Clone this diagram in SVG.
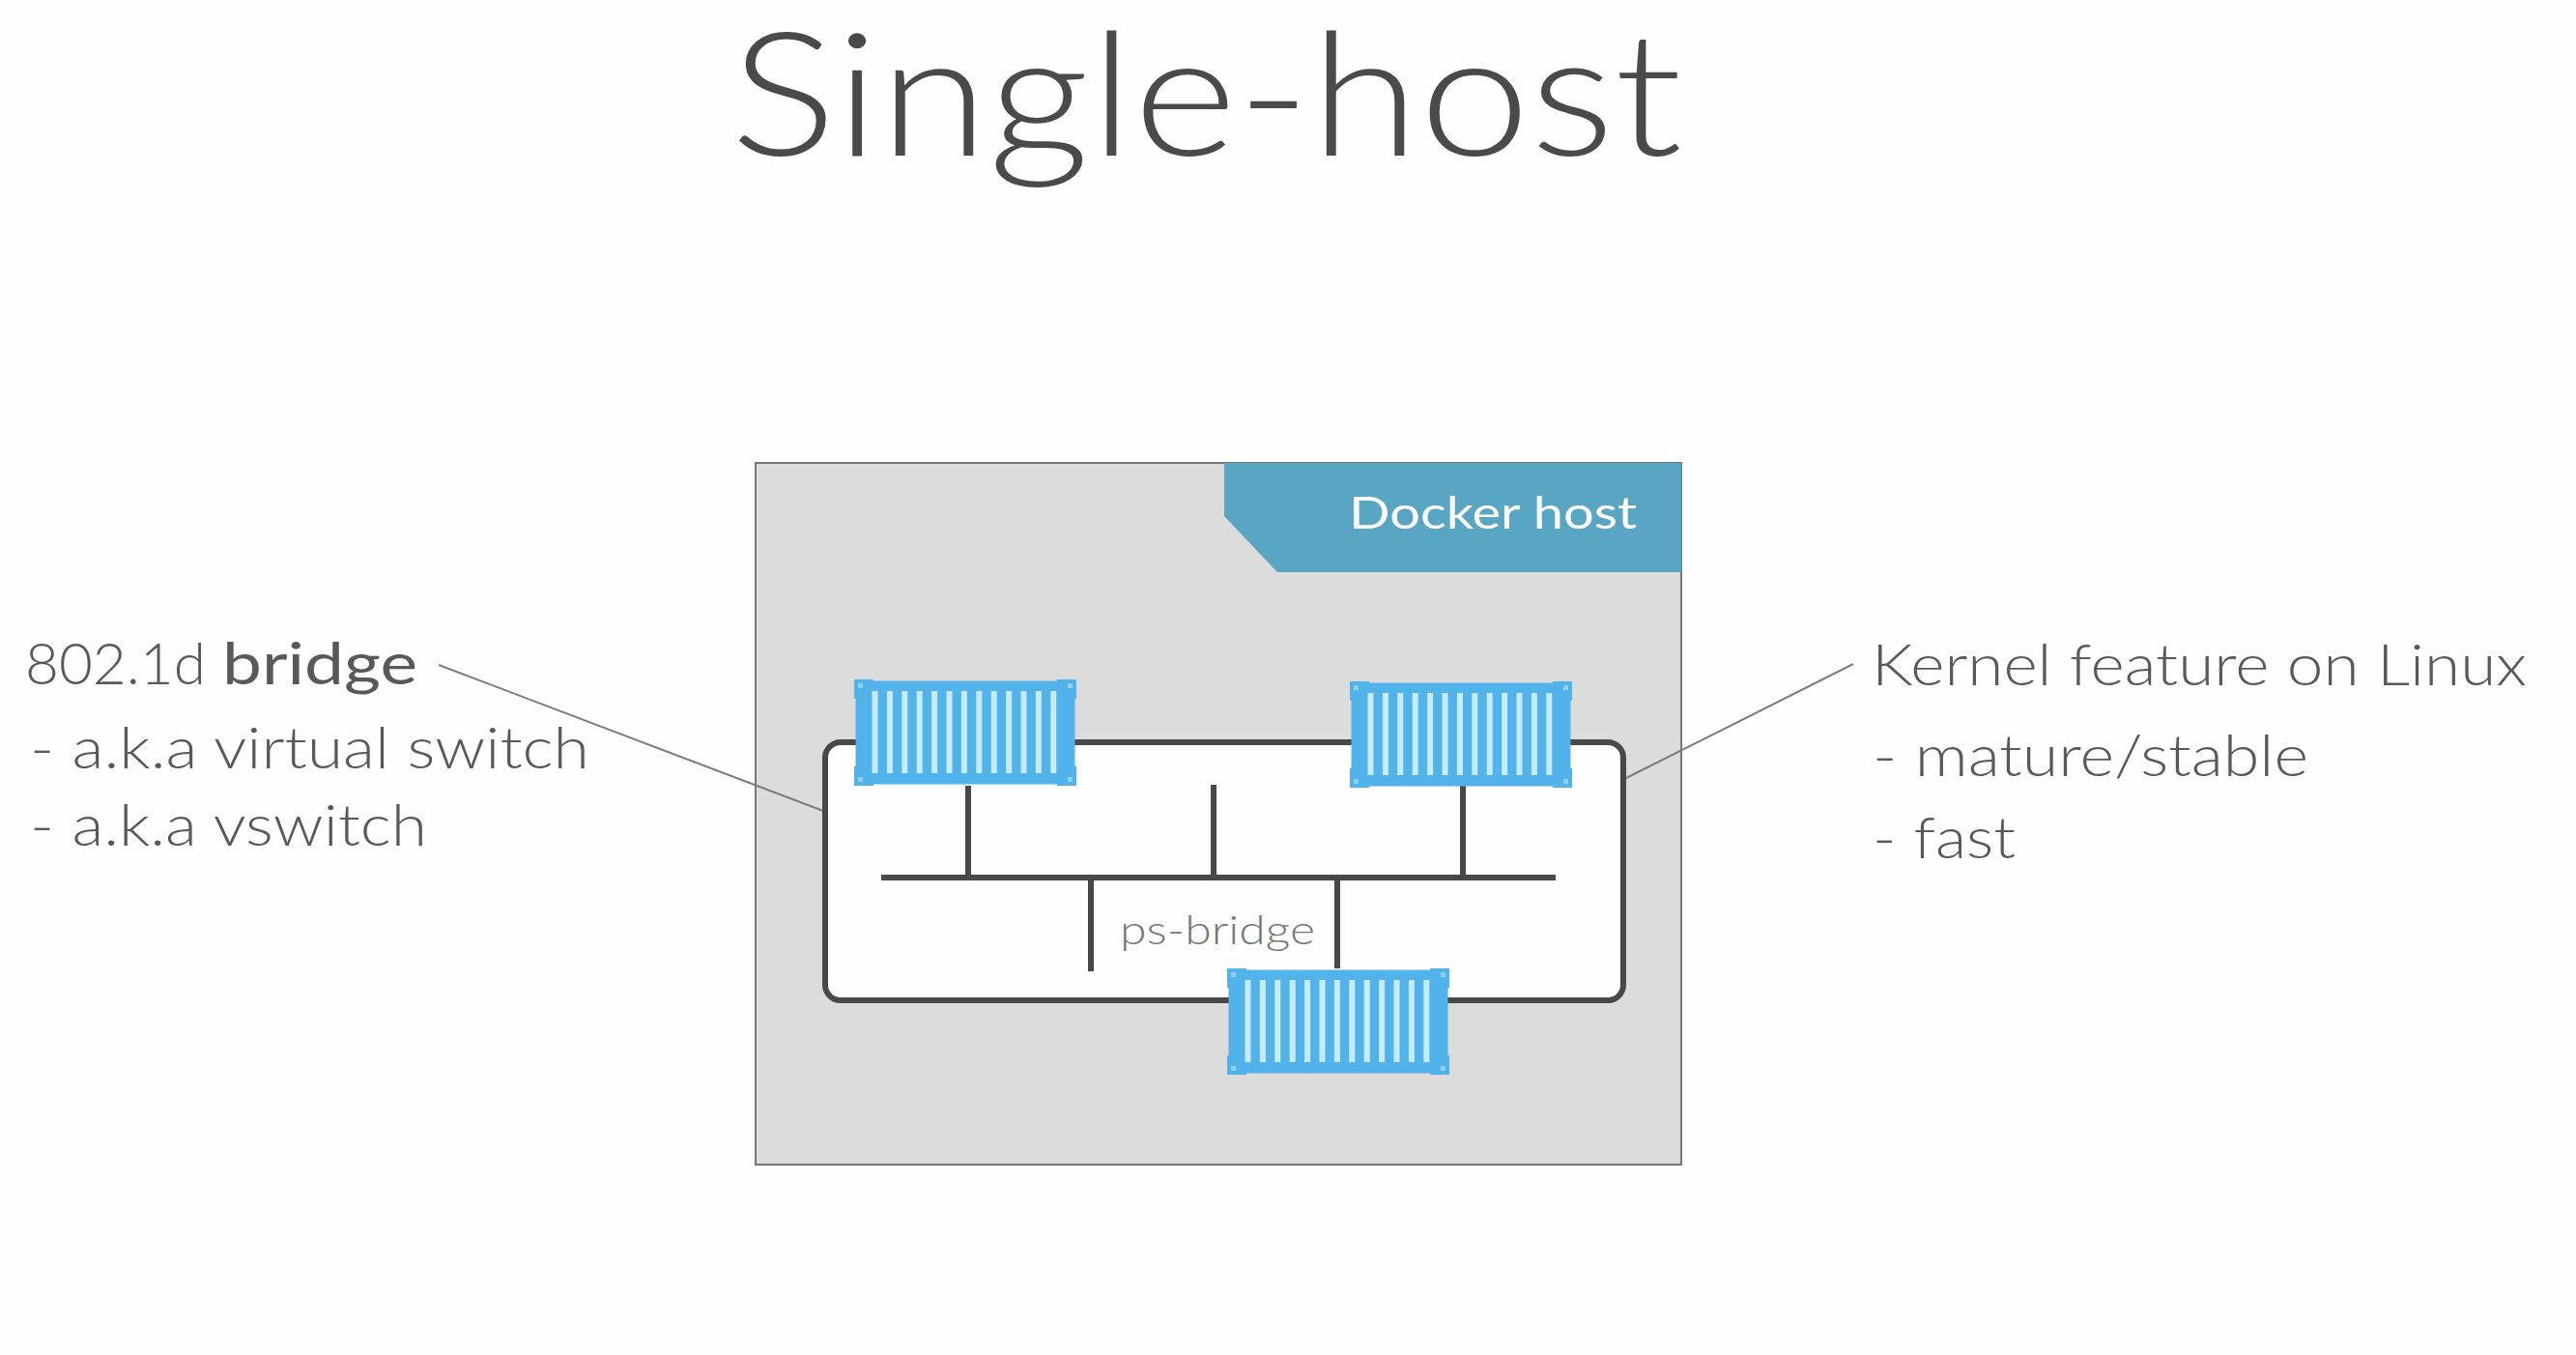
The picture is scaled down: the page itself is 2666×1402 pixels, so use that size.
<svg xmlns="http://www.w3.org/2000/svg" width="2666" height="1402" viewBox="0 0 2666 1402">
<style>
text{font-family:"Lato","Open Sans","Liberation Sans",sans-serif;font-weight:300;fill:#595959}
.t{font-size:60px}
.wire{stroke:#484848;stroke-width:6;fill:none}
.lead{stroke:#7d7d7d;stroke-width:2;fill:none}
.slat{fill:#c5ecfc}
.cbody{fill:#52b3ea}
.cdot{fill:#8fd0f2}
</style>
<defs>
<g id="container">
<rect class="cbody" x="1.5" y="1.5" width="227" height="107"/>
<g class="cbody">
<rect x="0" y="0" width="20" height="8"/><rect x="210" y="0" width="20" height="8"/><rect x="0" y="102" width="20" height="8"/><rect x="210" y="102" width="20" height="8"/>
<rect x="0" y="0" width="8" height="20"/><rect x="222" y="0" width="8" height="20"/><rect x="0" y="90" width="8" height="20"/><rect x="222" y="90" width="8" height="20"/>
</g>
<g class="slat">
<rect x="18.5" y="12" width="6" height="85"/><rect x="33.9" y="12" width="6" height="85"/><rect x="49.3" y="12" width="6" height="85"/><rect x="64.7" y="12" width="6" height="85"/><rect x="80.1" y="12" width="6" height="85"/><rect x="95.5" y="12" width="6" height="85"/><rect x="110.9" y="12" width="6" height="85"/><rect x="126.3" y="12" width="6" height="85"/><rect x="141.7" y="12" width="6" height="85"/><rect x="157.1" y="12" width="6" height="85"/><rect x="172.5" y="12" width="6" height="85"/><rect x="187.9" y="12" width="6" height="85"/><rect x="203.3" y="12" width="6" height="85"/>
</g>
<rect class="cdot" x="4" y="4" width="5" height="5"/><rect class="cdot" x="221" y="4" width="5" height="5"/><rect class="cdot" x="4" y="101" width="5" height="5"/><rect class="cdot" x="221" y="101" width="5" height="5"/>
</g>
</defs>
<rect width="2666" height="1402" fill="#fefefe"/>
<g id="title"><text x="756" y="161" font-size="178" style="fill:#4a4a4a" textLength="985" lengthAdjust="spacingAndGlyphs">Single-host</text></g>
<g id="docker-host">
<rect x="782" y="479" width="958" height="726" fill="#dcdcdc" stroke="#777" stroke-width="2"/>
<path d="M1267 479H1740V592H1322L1267 534Z" fill="#58a5c4"/>
<text x="1396" y="547" font-size="46" style="fill:#fff;font-weight:400" textLength="298" lengthAdjust="spacingAndGlyphs">Docker host</text>
</g>
<g id="connectors">
<path class="lead" d="M454 688L852 839"/>
<path class="lead" d="M1918 687L1683 805"/>
</g>
<g id="ps-bridge">
<rect class="wire" x="854" y="768" width="826" height="267" rx="16" style="fill:#fefefe"/>
<path class="wire" d="M912 908H1610M1002 813V908M1256 812V908M1514 813V908M1129 908V1005M1384 908V1002"/>
<text x="1159" y="977" font-size="42" style="fill:#777" textLength="202" lengthAdjust="spacingAndGlyphs">ps-bridge</text>
</g>
<g id="container-1"><use href="#container" x="884" y="703"/></g>
<g id="container-2"><use href="#container" x="1397" y="705"/></g>
<g id="container-3"><use href="#container" x="1270" y="1002"/></g>
<g id="left-notes">
<text class="t" y="708"><tspan x="26" textLength="187" lengthAdjust="spacingAndGlyphs">802.1d</tspan> <tspan x="230" textLength="202" lengthAdjust="spacingAndGlyphs" style="font-weight:400">bridge</tspan></text>
<text class="t" x="31" y="795" textLength="579" lengthAdjust="spacingAndGlyphs">- a.k.a virtual switch</text>
<text class="t" x="31" y="875" textLength="411" lengthAdjust="spacingAndGlyphs">- a.k.a vswitch</text>
</g>
<g id="right-notes">
<text class="t" x="1937" y="709" textLength="678" lengthAdjust="spacingAndGlyphs">Kernel feature on Linux</text>
<text class="t" x="1938" y="803" textLength="451" lengthAdjust="spacingAndGlyphs">- mature/stable</text>
<text class="t" x="1938" y="888" textLength="148" lengthAdjust="spacingAndGlyphs">- fast</text>
</g>
</svg>
